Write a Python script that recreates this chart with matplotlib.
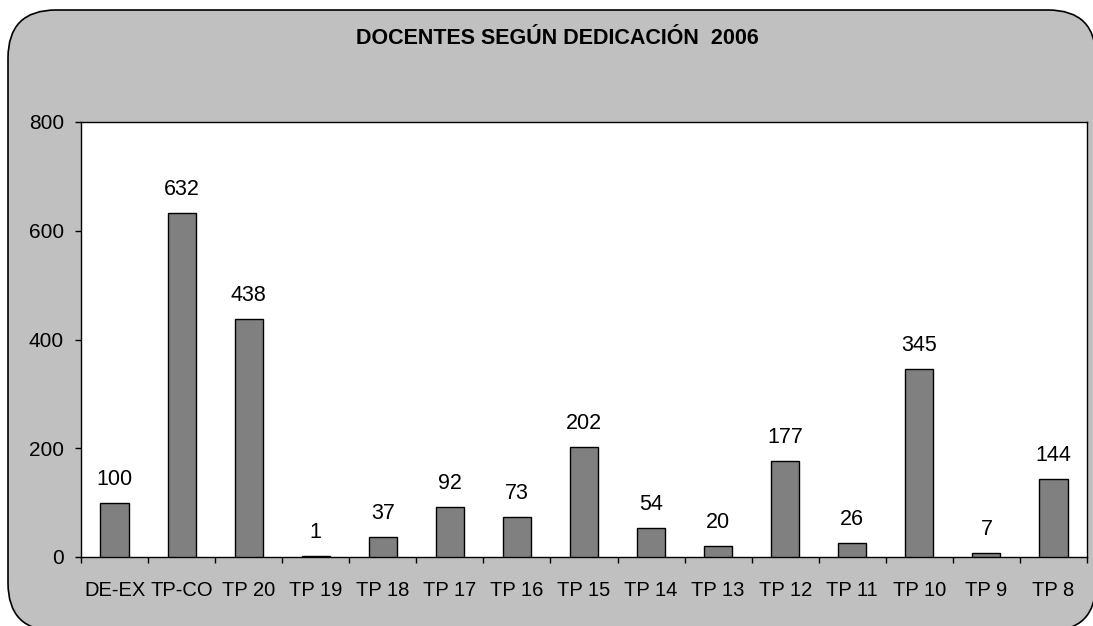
import matplotlib
matplotlib.use("Agg")
import matplotlib.pyplot as plt
from matplotlib.patches import FancyBboxPatch
import numpy as np

categories = ["DE-EX", "TP-CO", "TP 20", "TP 19", "TP 18", "TP 17", "TP 16", "TP 15",
              "TP 14", "TP 13", "TP 12", "TP 11", "TP 10", "TP 9", "TP 8"]
values = [100, 632, 438, 1, 37, 92, 73, 202, 54, 20, 177, 26, 345, 7, 144]
yticks = [0, 200, 400, 600, 800]
title = "DOCENTES SEGÚN DEDICACIÓN  2006"

plt.rcParams['font.family'] = ['Liberation Sans', 'DejaVu Sans']

W, H = 1093, 626
fig = plt.figure(figsize=(W / 100, H / 100), dpi=100)
fig.patch.set_facecolor("white")

# rounded gray background panel (in inches)
bg = FancyBboxPatch((0.08, -0.05), 10.88, 6.16 + 0.05,
                    boxstyle="round,pad=0,rounding_size=0.48",
                    transform=fig.dpi_scale_trans, facecolor="#c0c0c0",
                    edgecolor="black", linewidth=1.2, zorder=-5)
fig.patches.append(bg)

ax = fig.add_axes([81 / W, (H - 557) / H, (1087 - 81) / W, (557 - 122) / H])
ax.set_zorder(2)
ax.set_facecolor("white")
x = np.arange(len(categories))
ax.bar(x, values, width=0.42, color="#808080", edgecolor="black", linewidth=1, zorder=3)
ax.set_xlim(-0.5, len(categories) - 0.5)
ax.set_ylim(0, 800)
ax.set_yticks(yticks)
ax.set_yticklabels([str(v) for v in yticks], fontsize=15)
ax.set_xticks(x)
ax.set_xticklabels(categories, fontsize=14.5)
ax.set_xticks(np.arange(-0.5, len(categories)), minor=True)
ax.tick_params(axis="x", which="major", length=0, pad=17)
ax.tick_params(axis="x", which="minor", length=4.3, width=1, direction="out")
ax.tick_params(axis="y", which="major", length=4.3, width=1, direction="out", pad=8)
for s in ax.spines.values():
    s.set_linewidth(1)
    s.set_color("black")

for xi, v in zip(x, values):
    ax.annotate(str(v), (xi, v), xytext=(0, 13), textcoords="offset points",
                ha="center", va="baseline", fontsize=15.5, zorder=4)

fig.text(557 / W, 1 - 44 / H, title, ha="center", va="baseline",
         fontsize=15.5, fontweight="bold")

fig.savefig("out.png", dpi=100, facecolor="white")
